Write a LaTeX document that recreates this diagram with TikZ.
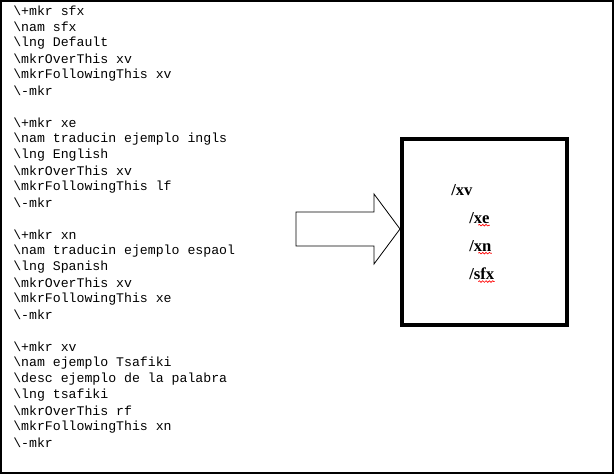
\documentclass[tikz,border=0pt]{standalone}
\usepackage{fontspec}
\setmainfont{Liberation Serif}
\setmonofont{Liberation Mono}
\usetikzlibrary{decorations.pathmorphing}
\begin{document}
\begin{tikzpicture}[x=0.75pt,y=-0.75pt,
  code/.style={anchor=west,inner sep=0pt,font=\ttfamily\fontsize{9.9pt}{10pt}\selectfont},
  lab/.style={anchor=west,inner sep=0pt,font=\bfseries\fontsize{12.5pt}{13pt}\selectfont},
  wavy/.style={red,line width=0.5pt,decorate,decoration={snake,amplitude=0.6pt,segment length=2.5pt}}]
\useasboundingbox (0,0) rectangle (614,474);
\draw[line width=1.5pt] (1,1) rectangle (613,473);
\foreach \t [count=\i from 0] in {\textbackslash+mkr sfx,\textbackslash nam sfx,\textbackslash lng Default,\textbackslash mkrOverThis xv,\textbackslash mkrFollowingThis xv,\textbackslash-mkr,,\textbackslash+mkr xe,\textbackslash nam traducin ejemplo ingls,\textbackslash lng English,\textbackslash mkrOverThis xv,\textbackslash mkrFollowingThis lf,\textbackslash-mkr,,\textbackslash+mkr xn,\textbackslash nam traducin ejemplo espaol,\textbackslash lng Spanish,\textbackslash mkrOverThis xv,\textbackslash mkrFollowingThis xe,\textbackslash-mkr,,\textbackslash+mkr xv,\textbackslash nam ejemplo Tsafiki,\textbackslash desc ejemplo de la palabra,\textbackslash lng tsafiki,\textbackslash mkrOverThis rf,\textbackslash mkrFollowingThis xn,\textbackslash-mkr}
  \node[code] (l\i) at (13,{11+16*\i}) {\t};
\draw[line width=0.6pt] (296,212) -- (374,212) -- (374,194) -- (400,229) -- (374,264) -- (374,246) -- (296,246) -- cycle;
\draw[line width=3pt] (402,139) rectangle (567,325);
\node[lab] (xv) at (451,190) {/xv};
\node[lab] (xe) at (469,218) {/xe};
\node[lab] (xn) at (469,246) {/xn};
\node[lab] (sfx) at (469,274) {/sfx};
\foreach \n in {xe,xn,sfx}
  \draw[wavy] ([xshift=7pt,yshift=-1pt]\n.south west) -- ([yshift=-1pt]\n.south east);
\end{tikzpicture}
\end{document}
